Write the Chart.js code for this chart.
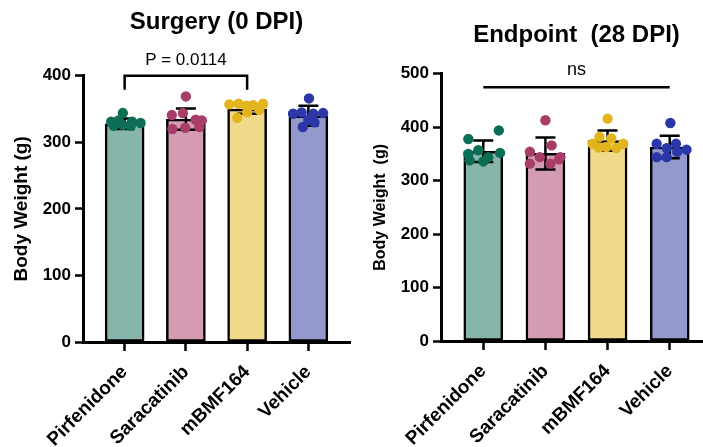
<!DOCTYPE html>
<html>
<head>
<meta charset="utf-8">
<script src="https://cdn.jsdelivr.net/npm/chart.js@4.4.1/dist/chart.umd.min.js"></script>
<style>
  html, body { margin: 0; padding: 0; background: #fff; overflow: hidden; }
  #wrap { position: relative; width: 703px; height: 447px; overflow: hidden; }
  canvas { position: absolute; top: 0; }
  #surgery { left: 0; }
  #endpoint { left: 362px; }
</style>
</head>
<body>
<div id="wrap">
  <canvas id="surgery" width="360" height="447"></canvas>
  <canvas id="endpoint" width="360" height="447"></canvas>
</div>
<script>
// groups and colours
const groups = ['Pirfenidone', 'Saracatinib', 'mBMF164', 'Vehicle'];
const barColors = ['#88b5ab', '#d49cb2', '#f2da8d', '#9499cc'];
const dotColors = ['#0e6e55', '#a83d69', '#e2b41e', '#2b37a6'];

// Surgery (0 DPI) - body weight (g)
const surgeryMeans = [328, 335, 350, 340];
const surgerySD = [8, 16, 7, 15];
const surgeryPirfenidone = [344, 331, 326, 331, 329, 325, 325, 333];
const surgerySaracatinib = [369, 341, 344, 334, 320, 322, 323, 333];
const surgeryMBMF164 = [357, 358, 355, 356, 358, 337, 345, 349];
const surgeryVehicle = [366, 343, 345, 343, 344, 323, 330, 334];

// Endpoint (28 DPI) - body weight (g)
const endpointMeans = [355, 351, 375, 363];
const endpointSD = [20, 30, 19, 21];
const endpointPirfenidone = [378, 394, 357, 338, 344, 352, 350, 336];
const endpointSaracatinib = [413, 354, 366, 332, 344, 332, 344, 340];
const endpointMBMF164 = [416, 382, 379, 369, 369, 363, 361, 362];
const endpointVehicle = [408, 369, 361, 369, 358, 344, 344, 354];

// y ticks
const surgeryTicks = [0, 100, 200, 300, 400];
const endpointTicks = [0, 100, 200, 300, 400, 500];

// horizontal spread of the dots inside each bar (category units)
const surgeryJitter = [
  [-0.03, -0.22, -0.03, 0.12, 0.26, -0.18, 0.10, -0.10],
  [0.00, -0.23, -0.05, 0.16, -0.22, -0.01, 0.22, 0.26],
  [-0.29, -0.14, -0.01, 0.10, 0.26, -0.16, 0.00, 0.20],
  [0.01, -0.25, -0.11, 0.08, 0.24, -0.09, 0.10, 0.00]
];
const endpointJitter = [
  [-0.24, 0.25, -0.08, -0.22, 0.08, 0.27, -0.24, 0.00],
  [0.00, -0.25, 0.10, -0.25, -0.09, 0.08, 0.24, 0.22],
  [0.00, -0.13, 0.06, 0.25, -0.24, -0.02, 0.14, -0.14],
  [0.01, -0.21, -0.05, 0.10, 0.27, -0.21, -0.05, 0.12]
];

Chart.defaults.font.family = '"Liberation Sans", Arial, Helvetica, sans-serif';
Chart.defaults.color = '#000';

// mean +/- SD whiskers, drawn right after the bars so dots sit on top
const errorBars = {
  id: 'errorBars',
  afterDatasetDraw(chart, args, opts) {
    if (chart.data.datasets[args.index].type !== 'bar') return;
    const { ctx, scales: { x, y } } = chart;
    ctx.save();
    ctx.strokeStyle = '#000';
    ctx.lineWidth = 2.5;
    opts.means.forEach((m, i) => {
      const cx = x.getPixelForValue(i);
      const top = y.getPixelForValue(m + opts.sd[i]);
      const bot = y.getPixelForValue(m - opts.sd[i]);
      ctx.beginPath();
      ctx.moveTo(cx, top); ctx.lineTo(cx, bot);
      ctx.moveTo(cx - 10, top); ctx.lineTo(cx + 10, top);
      ctx.moveTo(cx - 10, bot); ctx.lineTo(cx + 10, bot);
      ctx.stroke();
    });
    ctx.restore();
  }
};

// comparison bracket / line with its label
const sigMark = {
  id: 'sigMark',
  afterDraw(chart, args, o) {
    const { ctx, scales: { x, y } } = chart;
    const x1 = x.getPixelForValue(o.from);
    const x2 = x.getPixelForValue(o.to);
    const yy = y.getPixelForValue(o.level);
    ctx.save();
    ctx.strokeStyle = '#000';
    ctx.lineWidth = 2.5;
    ctx.beginPath();
    if (o.legTo != null) {
      const yl = y.getPixelForValue(o.legTo);
      ctx.moveTo(x1, yl); ctx.lineTo(x1, yy); ctx.lineTo(x2, yy); ctx.lineTo(x2, yl);
    } else {
      ctx.moveTo(x1, yy); ctx.lineTo(x2, yy);
    }
    ctx.stroke();
    ctx.fillStyle = '#000';
    ctx.font = o.font;
    ctx.textAlign = 'center';
    ctx.textBaseline = 'middle';
    ctx.fillText(o.text, (x1 + x2) / 2, yy + o.textOffset);
    ctx.restore();
  }
};

function makeChart(id, cfg) {
  const dotData = [];
  const dotFill = [];
  cfg.dots.forEach((vals, i) => {
    vals.forEach((v, j) => {
      dotData.push({ x: i + cfg.jitter[i][j], y: v });
      dotFill.push(dotColors[i]);
    });
  });

  return new Chart(document.getElementById(id), {
    data: {
      datasets: [
        {
          type: 'bar',
          data: cfg.means.map((m, i) => ({ x: i, y: m })),
          backgroundColor: barColors,
          borderColor: '#000',
          borderWidth: 2.5,
          borderSkipped: false,
          barThickness: 39,
          order: 2
        },
        {
          type: 'scatter',
          data: dotData,
          pointBackgroundColor: dotFill,
          pointBorderWidth: 0,
          pointRadius: 5.2,
          order: 1
        }
      ]
    },
    options: {
      responsive: false,
      animation: false,
      layout: { padding: { left: 0, right: 10, top: 0, bottom: 0 } },
      plugins: {
        legend: { display: false },
        tooltip: { enabled: false },
        title: {
          display: true,
          text: cfg.title,
          fullSize: false,
          color: '#000',
          font: { size: 24, weight: 'bold' },
          padding: cfg.titlePad
        },
        errorBars: { means: cfg.means, sd: cfg.sd },
        sigMark: cfg.sig
      },
      scales: {
        x: {
          type: 'linear',
          min: -0.68,
          max: 3.68,
          offset: false,
          afterBuildTicks: s => { s.ticks = groups.map((g, i) => ({ value: i })); },
          afterFit: s => { s.height = cfg.xHeight; },
          ticks: {
            callback: v => groups[v],
            color: '#000',
            font: { size: 19, weight: 'bold' },
            maxRotation: 45,
            minRotation: 45,
            autoSkip: false,
            padding: 10
          },
          grid: { display: true, offset: false, drawOnChartArea: false, drawTicks: true, tickLength: 9, tickWidth: 2.5, tickColor: '#000' },
          border: { display: true, color: '#000', width: 3 }
        },
        y: {
          min: 0,
          max: cfg.ticks[cfg.ticks.length - 1],
          afterBuildTicks: s => { s.ticks = cfg.ticks.map(v => ({ value: v })); },
          afterFit: s => { s.width = cfg.yWidth; },
          ticks: { color: '#000', font: { size: 17, weight: 'bold' }, padding: 4 },
          grid: { display: true, drawOnChartArea: false, drawTicks: true, tickLength: 8, tickWidth: 2.5, tickColor: '#000' },
          border: { display: true, color: '#000', width: 3 },
          title: {
            display: true,
            text: cfg.yTitle,
            color: '#000',
            font: { size: cfg.yTitleSize, weight: 'bold' },
            padding: { top: cfg.yTitlePad, bottom: 0 }
          }
        }
      }
    },
    plugins: [errorBars, sigMark]
  });
}

makeChart('surgery', {
  title: 'Surgery (0 DPI)',
  titlePad: { top: 8, bottom: 39 },
  means: surgeryMeans,
  sd: surgerySD,
  dots: [surgeryPirfenidone, surgerySaracatinib, surgeryMBMF164, surgeryVehicle],
  jitter: surgeryJitter,
  ticks: surgeryTicks,
  yTitle: 'Body Weight (g)',
  yTitleSize: 19,
  yTitlePad: 10,
  yWidth: 83,
  xHeight: 105,
  sig: { from: 0, to: 2, level: 400, legTo: 379, text: 'P = 0.0114', font: '17px "Liberation Sans", Arial, sans-serif', textOffset: -15 }
});

makeChart('endpoint', {
  title: 'Endpoint  (28 DPI)',
  titlePad: { top: 21, bottom: 24 },
  means: endpointMeans,
  sd: endpointSD,
  dots: [endpointPirfenidone, endpointSaracatinib, endpointMBMF164, endpointVehicle],
  jitter: endpointJitter,
  ticks: endpointTicks,
  yTitle: 'Body Weight  (g)',
  yTitleSize: 16,
  yTitlePad: 9,
  yWidth: 79,
  xHeight: 106,
  sig: { from: 0, to: 3, level: 475, legTo: null, text: 'ns', font: '18px "Liberation Sans", Arial, sans-serif', textOffset: -17 }
});
</script>
</body>
</html>
